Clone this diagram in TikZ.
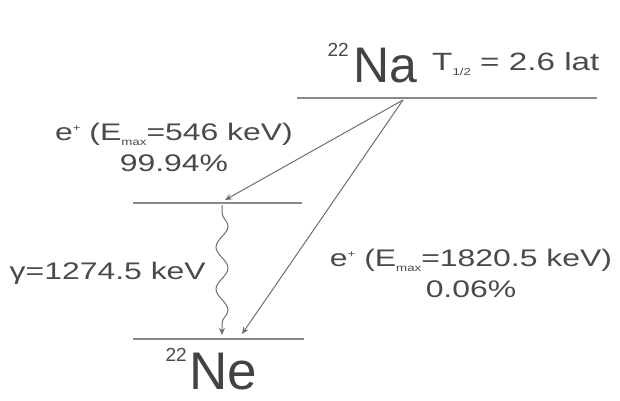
\documentclass[tikz,border=0pt]{standalone}
\usepackage{fontspec}
\setmainfont{Liberation Sans}
\newfontfamily\widefont{Liberation Sans}[FakeStretch=1.33]
\usetikzlibrary{arrows.meta,decorations.pathmorphing}
\definecolor{txt}{HTML}{4A4A4A}
\definecolor{lvl}{HTML}{8A8A8A}
\begin{document}
\begin{tikzpicture}[x=1pt,y=-1pt,
  level/.style={draw=lvl,line width=1.5pt},
  trans/.style={draw=txt!80,line width=1pt,-{Stealth[length=7pt,width=6pt]}},
  lab/.style={text=txt,inner sep=0pt,font=\widefont\fontsize{24}{31}\selectfont,align=center},
  big/.style={text=txt!90!black,inner sep=0pt,font=\fontsize{50}{50}\selectfont},
  sup/.style={text=txt,inner sep=0pt,font=\fontsize{19}{19}\selectfont}]
\useasboundingbox (0,0) rectangle (620,400);
% levels
\coordinate (naL) at (297,98); \coordinate (naR) at (597,98);
\coordinate (exL) at (133,203); \coordinate (exR) at (302,203);
\coordinate (neL) at (133,339); \coordinate (neR) at (304,339);
\draw[level] (naL) -- (naR);
\draw[level] (exL) -- (exR);
\draw[level] (neL) -- (neR);
% nuclei
\node[big,anchor=base west] (na) at (353,82) {Na};
\node[sup,anchor=base east] (na22) at (349,56) {22};
\node[big,anchor=base west,font=\fontsize{53}{53}\selectfont] (ne) at (189,389) {Ne};
\node[sup,anchor=base east] (ne22) at (187,361) {22};
% half-life
\node[lab,anchor=base west,font=\widefont\fontsize{25}{25}\selectfont] (thalf) at (432,70) {T\raisebox{-5pt}{\fontsize{10}{10}\selectfont 1/2} = 2.6 lat};
% transitions
\coordinate (src) at (403,100);
\coordinate (ex1) at (225,200);
\coordinate (gs1) at (242,334);
\coordinate (gtop) at (222,205);
\coordinate (gbot) at (222,335);
\draw[trans] (src) -- (ex1);
\draw[trans] (src) -- (gs1);
\draw[draw=txt!80,line width=1pt,-{Stealth[length=7pt,width=6pt]},
  decorate,decoration={snake,amplitude=6pt,segment length=42pt,pre length=8pt,post length=10pt}]
  (gtop) -- (gbot);
% labels
\node[lab] (b1) at (174,147) {e\raisebox{9pt}{\fontsize{10}{10}\selectfont +} (E\raisebox{-5pt}{\fontsize{10}{10}\selectfont max}=546 keV)\\99.94\%};
\node[lab,anchor=base east] (g) at (206,279) {γ=1274.5 keV};
\node[lab] (b2) at (471,273) {e\raisebox{9pt}{\fontsize{10}{10}\selectfont +} (E\raisebox{-5pt}{\fontsize{10}{10}\selectfont max}=1820.5 keV)\\0.06\%};
\end{tikzpicture}
\end{document}
